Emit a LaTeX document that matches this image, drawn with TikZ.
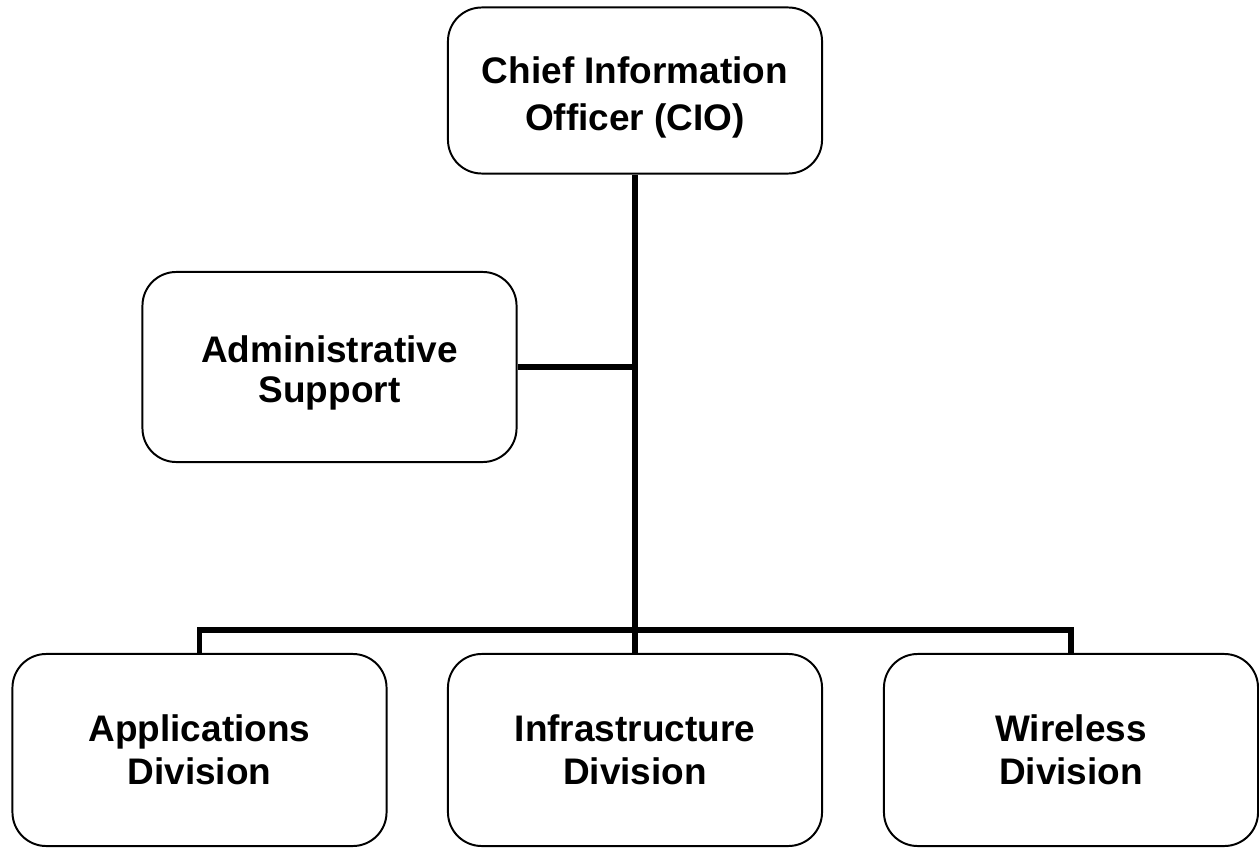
\documentclass[tikz,border=0pt]{standalone}
\usepackage{fontspec}
\setmainfont{Liberation Sans}
\usepackage{tikz}

\tikzset{
  unit/.style = {draw, line width=1.4pt, rounded corners=24pt, align=center,
    minimum width=9.35cm, font=\fontsize{26.3}{30.6}\selectfont\bfseries},
  link/.style = {line width=4pt}
}

\begin{document}
\begin{tikzpicture}
  [x = .025cm, y = -.025cm]
    \useasboundingbox (0,0) rectangle (1259,848);

    % top and side boxes
    \node[unit, minimum height=4.15cm,
      font=\fontsize{26.3}{33.4}\selectfont\bfseries] (cio) at (635,90.5)
      {\rule{0pt}{28.4pt}Chief Information\\Officer (CIO)};
    \node[unit, minimum height=4.75cm,
      font=\fontsize{26.3}{28.5}\selectfont\bfseries] (adm) at (329.5,367)
      {\rule{0pt}{26.9pt}Administrative\\Support};

    % divisions
    \node[unit, minimum height=4.8cm] (app) at (199.5,750) {Applications\\Division};
    \node[unit, minimum height=4.8cm] (inf) at (635,750) {Infrastructure\\Division};
    \node[unit, minimum height=4.8cm] (wls) at (1071,750) {Wireless\\Division};

    \coordinate (j1) at (635,367);
    \coordinate (b1) at (199.5,630);
    \coordinate (b2) at (635,630);
    \coordinate (b3) at (1071,630);

    \draw[link] (cio) -- (j1) -- (b2) -- (inf);
    \draw[link] (adm) -- (j1);
    \draw[link] (app.north) -- (b1) -- (b3) -- (wls.north);
  \end{tikzpicture}
\end{document}
